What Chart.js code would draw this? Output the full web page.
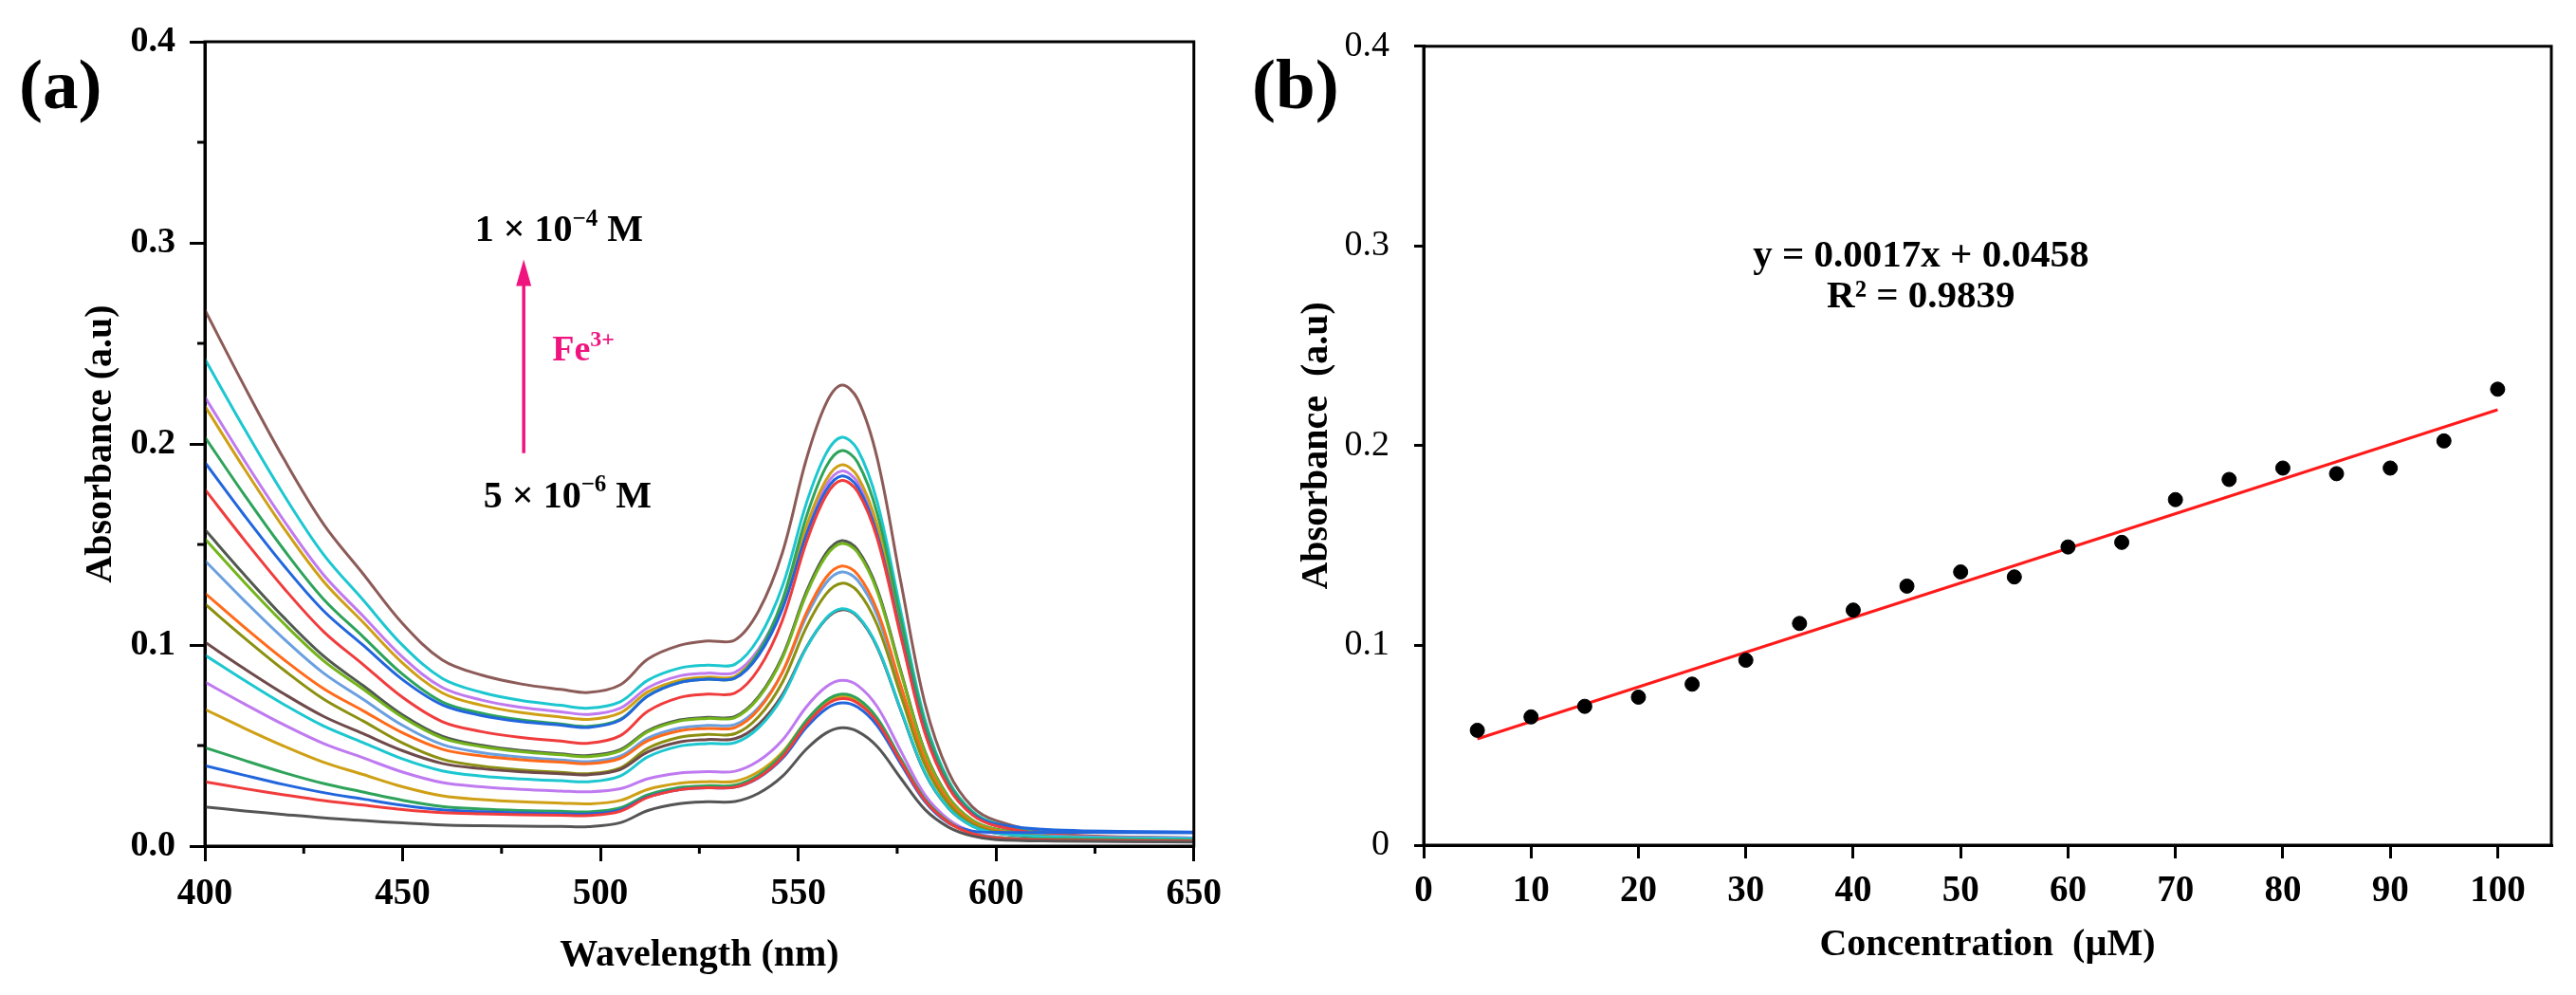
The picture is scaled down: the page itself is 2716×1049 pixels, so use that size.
<!DOCTYPE html>
<html>
<head>
<meta charset="utf-8">
<script src="https://cdn.jsdelivr.net/npm/chart.js@4.4.1/dist/chart.umd.min.js"></script>
<style>
html, body { margin:0; padding:0; background:#fff; }
#lienzo { position:relative; width:2716px; height:1049px; background:#fff; }
canvas { position:absolute; top:0; }
#grafica-a { left:0; }
#grafica-b { left:1300px; }
</style>
</head>
<body>
<div id="lienzo">
<canvas id="grafica-a" width="1300" height="1049"></canvas>
<canvas id="grafica-b" width="1416" height="1049"></canvas>
</div>
<script>
// (a) espectros UV-vis, una lista por concentracion de Fe3+ (uM)
var wavelengths = [400,410,420,430,440,450,460,470,480,490,497,505,512,520,527,534,540,546,552,557,561,565,570,576,582,588,594,600,615,650];

var abs5   = [0.0195,0.0175,0.0157,0.0140,0.0127,0.0115,0.0105,0.0101,0.0099,0.0098,0.0097,0.0116,0.0177,0.0211,0.0220,0.0222,0.0263,0.0347,0.0481,0.0562,0.0588,0.0570,0.0494,0.0335,0.0182,0.0094,0.0050,0.0032,0.0025,0.0020];
var abs10  = [0.0320,0.0286,0.0255,0.0226,0.0204,0.0182,0.0166,0.0160,0.0156,0.0153,0.0152,0.0173,0.0242,0.0280,0.0290,0.0293,0.0342,0.0443,0.0604,0.0701,0.0733,0.0711,0.0616,0.0418,0.0227,0.0117,0.0062,0.0040,0.0030,0.0025];
var abs15  = [0.0400,0.0352,0.0306,0.0266,0.0234,0.0203,0.0180,0.0171,0.0165,0.0162,0.0160,0.0180,0.0245,0.0281,0.0290,0.0293,0.0340,0.0436,0.0589,0.0682,0.0712,0.0691,0.0598,0.0406,0.0221,0.0114,0.0075,0.0068,0.0068,0.0066];
var abs20  = [0.0490,0.0426,0.0365,0.0311,0.0269,0.0228,0.0197,0.0184,0.0177,0.0173,0.0170,0.0190,0.0255,0.0291,0.0300,0.0303,0.0354,0.0458,0.0623,0.0723,0.0756,0.0733,0.0635,0.0431,0.0234,0.0121,0.0064,0.0042,0.0035,0.0030];
var abs25  = [0.0680,0.0586,0.0497,0.0417,0.0356,0.0295,0.0250,0.0231,0.0220,0.0214,0.0210,0.0227,0.0282,0.0312,0.0320,0.0322,0.0370,0.0467,0.0621,0.0714,0.0745,0.0723,0.0626,0.0425,0.0231,0.0119,0.0063,0.0041,0.0030,0.0022];
var abs30  = [0.0816,0.0707,0.0603,0.0510,0.0439,0.0368,0.0316,0.0295,0.0282,0.0274,0.0270,0.0285,0.0335,0.0363,0.0370,0.0372,0.0424,0.0527,0.0691,0.0791,0.0824,0.0799,0.0692,0.0470,0.0255,0.0132,0.0070,0.0045,0.0030,0.0022];
var abs35  = [0.0950,0.0824,0.0704,0.0597,0.0515,0.0433,0.0374,0.0348,0.0334,0.0325,0.0320,0.0349,0.0444,0.0497,0.0510,0.0514,0.0589,0.0742,0.0984,0.1132,0.1180,0.1145,0.0991,0.0673,0.0366,0.0189,0.0100,0.0065,0.0045,0.0035];
var abs40  = [0.1014,0.0882,0.0757,0.0645,0.0559,0.0474,0.0411,0.0385,0.0369,0.0360,0.0355,0.0381,0.0469,0.0518,0.0530,0.0534,0.0606,0.0753,0.0987,0.1129,0.1175,0.1140,0.0987,0.0670,0.0364,0.0188,0.0100,0.0065,0.0040,0.0030];
var abs45  = [0.1204,0.1035,0.0875,0.0731,0.0622,0.0512,0.0432,0.0398,0.0379,0.0367,0.0360,0.0389,0.0487,0.0541,0.0555,0.0559,0.0644,0.0815,0.1087,0.1253,0.1307,0.1268,0.1098,0.0745,0.0405,0.0209,0.0111,0.0072,0.0045,0.0030];
var abs50  = [0.1258,0.1088,0.0927,0.0783,0.0673,0.0563,0.0482,0.0448,0.0429,0.0417,0.0410,0.0436,0.0524,0.0573,0.0585,0.0589,0.0680,0.0865,0.1157,0.1335,0.1393,0.1351,0.1170,0.0794,0.0432,0.0223,0.0118,0.0077,0.0045,0.0030];
var abs55  = [0.1420,0.1220,0.1030,0.0860,0.0730,0.0600,0.0505,0.0465,0.0442,0.0428,0.0420,0.0447,0.0537,0.0587,0.0600,0.0604,0.0690,0.0864,0.1140,0.1308,0.1363,0.1322,0.1145,0.0777,0.0423,0.0218,0.0116,0.0075,0.0050,0.0040];
var abs60  = [0.1528,0.1311,0.1106,0.0922,0.0781,0.0640,0.0537,0.0494,0.0469,0.0454,0.0445,0.0474,0.0569,0.0622,0.0635,0.0639,0.0738,0.0936,0.1251,0.1442,0.1505,0.1460,0.1264,0.0858,0.0467,0.0241,0.0128,0.0083,0.0045,0.0030];
var abs65  = [0.1574,0.1349,0.1136,0.0945,0.0798,0.0652,0.0546,0.0501,0.0475,0.0459,0.0450,0.0479,0.0574,0.0627,0.0640,0.0644,0.0744,0.0944,0.1262,0.1456,0.1519,0.1473,0.1276,0.0866,0.0471,0.0243,0.0129,0.0084,0.0045,0.0030];
var abs70  = [0.1774,0.1522,0.1282,0.1067,0.0903,0.0739,0.0619,0.0569,0.0540,0.0522,0.0512,0.0549,0.0671,0.0739,0.0756,0.0761,0.0881,0.1123,0.1508,0.1742,0.1818,0.1763,0.1527,0.1036,0.0564,0.0291,0.0155,0.0100,0.0055,0.0040];
var abs75  = [0.1908,0.1644,0.1394,0.1170,0.0999,0.0827,0.0702,0.0649,0.0619,0.0601,0.0590,0.0626,0.0746,0.0813,0.0830,0.0835,0.0949,0.1180,0.1546,0.1768,0.1841,0.1786,0.1546,0.1049,0.0571,0.0295,0.0160,0.0110,0.0080,0.0070];
var abs80  = [0.2034,0.1746,0.1473,0.1228,0.1041,0.0854,0.0717,0.0660,0.0627,0.0607,0.0595,0.0630,0.0748,0.0814,0.0830,0.0835,0.0964,0.1223,0.1635,0.1885,0.1967,0.1908,0.1652,0.1121,0.0610,0.0315,0.0167,0.0108,0.0055,0.0035];
var abs85  = [0.2188,0.1876,0.1580,0.1316,0.1113,0.0910,0.0762,0.0700,0.0664,0.0642,0.0630,0.0662,0.0767,0.0825,0.0840,0.0844,0.0965,0.1205,0.1588,0.1820,0.1896,0.1839,0.1593,0.1081,0.0588,0.0303,0.0161,0.0104,0.0050,0.0030];
var abs90  = [0.2233,0.1917,0.1618,0.1349,0.1144,0.0939,0.0789,0.0726,0.0690,0.0668,0.0655,0.0686,0.0788,0.0846,0.0860,0.0864,0.0979,0.1208,0.1572,0.1793,0.1865,0.1809,0.1567,0.1063,0.0578,0.0298,0.0159,0.0103,0.0050,0.0030];
var abs95  = [0.2422,0.2075,0.1745,0.1450,0.1224,0.0998,0.0834,0.0764,0.0724,0.0700,0.0686,0.0718,0.0825,0.0885,0.0900,0.0904,0.1034,0.1292,0.1702,0.1951,0.2033,0.1972,0.1708,0.1159,0.0630,0.0325,0.0173,0.0112,0.0055,0.0035];
var abs100 = [0.2666,0.2286,0.1924,0.1601,0.1354,0.1106,0.0926,0.0850,0.0806,0.0779,0.0764,0.0802,0.0930,0.0998,0.1020,0.1025,0.1170,0.1460,0.1921,0.2200,0.2292,0.2223,0.1925,0.1306,0.0711,0.0367,0.0195,0.0126,0.0060,0.0040];

// (b) calibracion
var concentrations = [5,10,15,20,25,30,35,40,45,50,55,60,65,70,75,80,85,90,95,100];
var absorbance = [0.0575,0.0642,0.0695,0.0741,0.0806,0.0926,0.1110,0.1177,0.1297,0.1368,0.1343,0.1493,0.1516,0.1730,0.1831,0.1888,0.1860,0.1888,0.2024,0.2283];
var fitX = [5, 100];
var fitY = [0.0532, 0.2180];

// ticks
var ticksMenoresX = [425, 475, 525, 575, 625];
var ticksMenoresY = [0.05, 0.15, 0.25, 0.35];

var espectros = [abs5,abs10,abs15,abs20,abs25,abs30,abs35,abs40,abs45,abs50,abs55,abs60,abs65,abs70,abs75,abs80,abs85,abs90,abs95,abs100];
var coloresEspectros = ['#555555','#f03c3c','#2266dd','#2ea35a','#cfa015','#bf7af0','#1cc7d0','#6e4a4a','#8c9010','#ff6a1a',
                        '#6aa0e0','#74b41c','#505850','#f03c3c','#2266dd','#2ea35a','#cfa015','#bf7af0','#1cc7d0','#8c5b58'];

var FUENTE = '"Liberation Serif", "Times New Roman", serif';
Chart.defaults.font.family = FUENTE;
Chart.defaults.color = '#000';
Chart.defaults.animation = false;

function puntos(xs, ys) {
    return xs.map(function (x, i) { return {x: x, y: ys[i]}; });
}

// texto con superindices: partes = [[texto, esSuper], ...]
function dibujarTexto(ctx, partes, x, y, tam, color, alinear) {
    var fN = 'bold ' + tam + 'px ' + FUENTE;
    var fS = 'bold ' + Math.round(tam * 0.62) + 'px ' + FUENTE;
    var ancho = 0;
    partes.forEach(function (p) { ctx.font = p[1] ? fS : fN; ancho += ctx.measureText(p[0]).width; });
    var xi = alinear === 'center' ? x - ancho / 2 : x;
    var base = y + tam * 0.33;
    ctx.fillStyle = color;
    ctx.textAlign = 'left';
    ctx.textBaseline = 'alphabetic';
    partes.forEach(function (p) {
        ctx.font = p[1] ? fS : fN;
        ctx.fillText(p[0], xi, p[1] ? base - tam * 0.42 : base);
        xi += ctx.measureText(p[0]).width;
    });
}

var marco = {
    id: 'marco',
    afterDraw: function (chart, args, opts) {
        var ctx = chart.ctx, a = chart.chartArea;
        ctx.save();
        ctx.strokeStyle = '#000';
        ctx.lineWidth = 3;
        ctx.strokeRect(a.left, a.top, a.right - a.left, a.bottom - a.top);
        (opts.menoresX || []).forEach(function (v) {
            var px = chart.scales.x.getPixelForValue(v);
            ctx.beginPath(); ctx.moveTo(px, a.bottom); ctx.lineTo(px, a.bottom + 8); ctx.stroke();
        });
        (opts.menoresY || []).forEach(function (v) {
            var py = chart.scales.y.getPixelForValue(v);
            ctx.beginPath(); ctx.moveTo(a.left, py); ctx.lineTo(a.left - 8, py); ctx.stroke();
        });
        ctx.font = 'bold 75px ' + FUENTE;
        ctx.fillStyle = '#000';
        ctx.textAlign = 'left';
        ctx.textBaseline = 'alphabetic';
        ctx.fillText(opts.etiqueta, opts.etiquetaX, 114);
        ctx.restore();
    }
};

var anotaciones = {
    id: 'anotaciones',
    afterDraw: function (chart) {
        var ctx = chart.ctx, sx = chart.scales.x, sy = chart.scales.y;
        ctx.save();
        var rosa = '#f0147f';
        // flecha
        var fx = sx.getPixelForValue(480.6);
        var y0 = sy.getPixelForValue(0.1954), y1 = sy.getPixelForValue(0.2917);
        ctx.strokeStyle = rosa; ctx.fillStyle = rosa; ctx.lineWidth = 3.5;
        ctx.beginPath(); ctx.moveTo(fx, y0); ctx.lineTo(fx, y1 + 24); ctx.stroke();
        ctx.beginPath(); ctx.moveTo(fx, y1); ctx.lineTo(fx - 8, y1 + 28); ctx.lineTo(fx + 8, y1 + 28); ctx.closePath(); ctx.fill();
        dibujarTexto(ctx, [['1 \u00d7 10', false], ['\u22124', true], [' M', false]],
            sx.getPixelForValue(489.5), sy.getPixelForValue(0.307), 40, '#000', 'center');
        dibujarTexto(ctx, [['5 \u00d7 10', false], ['\u22126', true], [' M', false]],
            sx.getPixelForValue(491.7), sy.getPixelForValue(0.1745), 40, '#000', 'center');
        dibujarTexto(ctx, [['Fe', false], ['3+', true]],
            sx.getPixelForValue(487.8), sy.getPixelForValue(0.2472), 38, rosa, 'left');
        ctx.restore();
    }
};

var ecuacion = {
    id: 'ecuacion',
    afterDraw: function (chart) {
        var ctx = chart.ctx, sx = chart.scales.x, sy = chart.scales.y;
        ctx.save();
        ctx.font = 'bold 41px ' + FUENTE;
        ctx.fillStyle = '#000';
        ctx.textAlign = 'center';
        ctx.textBaseline = 'middle';
        ctx.fillText('y = 0.0017x + 0.0458', sx.getPixelForValue(46.3), sy.getPixelForValue(0.2948));
        ctx.fillText('R\u00b2 = 0.9839', sx.getPixelForValue(46.3), sy.getPixelForValue(0.2745));
        ctx.restore();
    }
};

function ejes(opc) {
    var rejilla = {drawOnChartArea: false, drawTicks: true, tickLength: opc.largo, tickWidth: 3, tickColor: '#000', lineWidth: 3, color: '#000'};
    return {
        x: {
            type: 'linear', min: opc.xMin, max: opc.xMax,
            ticks: {stepSize: opc.xPaso, includeBounds: false, padding: opc.xPad, font: {size: 39, weight: 'bold'}},
            grid: Object.assign({}, rejilla, {tickLength: opc.largoX}),
            border: {display: true, color: '#000', width: 3},
            title: {display: true, text: opc.xTitulo, font: {size: 40, weight: 'bold'}, padding: {top: 0, bottom: opc.xTitPad}},
            afterFit: function (s) { s.height = opc.alto; }
        },
        y: {
            type: 'linear', min: 0, max: 0.4,
            ticks: {stepSize: 0.1, padding: opc.yPad, font: {size: 38, weight: opc.yPeso}, callback: opc.yFormato},
            grid: rejilla,
            border: {display: true, color: '#000', width: 3},
            title: {display: true, text: opc.yTitulo, font: {size: 40, weight: 'bold'}, padding: {top: opc.yTitPad, bottom: 0}},
            afterFit: function (s) { s.width = opc.ancho; }
        }
    };
}

function crearEspectros(id) {
    var datasets = espectros.map(function (serie, i) {
        return {
            label: (concentrations[i]) + ' uM',
            data: puntos(wavelengths, serie),
            borderColor: coloresEspectros[i],
            borderWidth: 3,
            pointRadius: 0,
            tension: 0.35,
            fill: false
        };
    });
    new Chart(document.getElementById(id), {
        type: 'line',
        data: {datasets: datasets},
        options: {
            responsive: false,
            devicePixelRatio: 1,
            layout: {padding: {left: 0, top: 44, right: 33, bottom: 0}},
            scales: ejes({
                xMin: 400, xMax: 650, xPaso: 50, xPad: 12, largo: 16, largoX: 16,
                xTitulo: 'Wavelength (nm)', xTitPad: 17, alto: 157,
                yPad: 15, yPeso: 'bold', yTitulo: 'Absorbance (a.u)', yTitPad: 83, ancho: 216,
                yFormato: function (v) { return v.toFixed(1); }
            }),
            plugins: {
                legend: {display: false},
                tooltip: {enabled: false},
                marco: {menoresX: ticksMenoresX, menoresY: ticksMenoresY, etiqueta: '(a)', etiquetaX: 20}
            }
        },
        plugins: [marco, anotaciones]
    });
}

function crearCalibracion(id) {
    new Chart(document.getElementById(id), {
        type: 'scatter',
        data: {
            datasets: [{
                type: 'line',
                label: 'ajuste',
                data: puntos(fitX, fitY),
                borderColor: '#ff1a1a',
                borderWidth: 3,
                pointRadius: 0,
                order: 2
            }, {
                label: 'Absorbancia',
                data: puntos(concentrations, absorbance),
                backgroundColor: '#000',
                borderColor: '#000',
                pointRadius: 7.5,
                order: 1
            }]
        },
        options: {
            responsive: false,
            devicePixelRatio: 1,
            layout: {padding: {left: 0, top: 43, right: 26, bottom: 0}},
            scales: ejes({
                xMin: 0, xMax: 105, xPaso: 10, xPad: 12, largo: 10, largoX: 14,
                xTitulo: 'Concentration  (\u00b5M)', xTitPad: 28, alto: 158,
                yPad: 26, yPeso: 'normal', yTitulo: 'Absorbance  (a.u)', yTitPad: 65, ancho: 201,
                yFormato: function (v) { return v === 0 ? '0' : v.toFixed(1); }
            }),
            plugins: {
                legend: {display: false},
                tooltip: {enabled: false},
                marco: {etiqueta: '(b)', etiquetaX: 20}
            }
        },
        plugins: [marco, ecuacion]
    });
}

crearEspectros('grafica-a');
crearCalibracion('grafica-b');
</script>
</body>
</html>
